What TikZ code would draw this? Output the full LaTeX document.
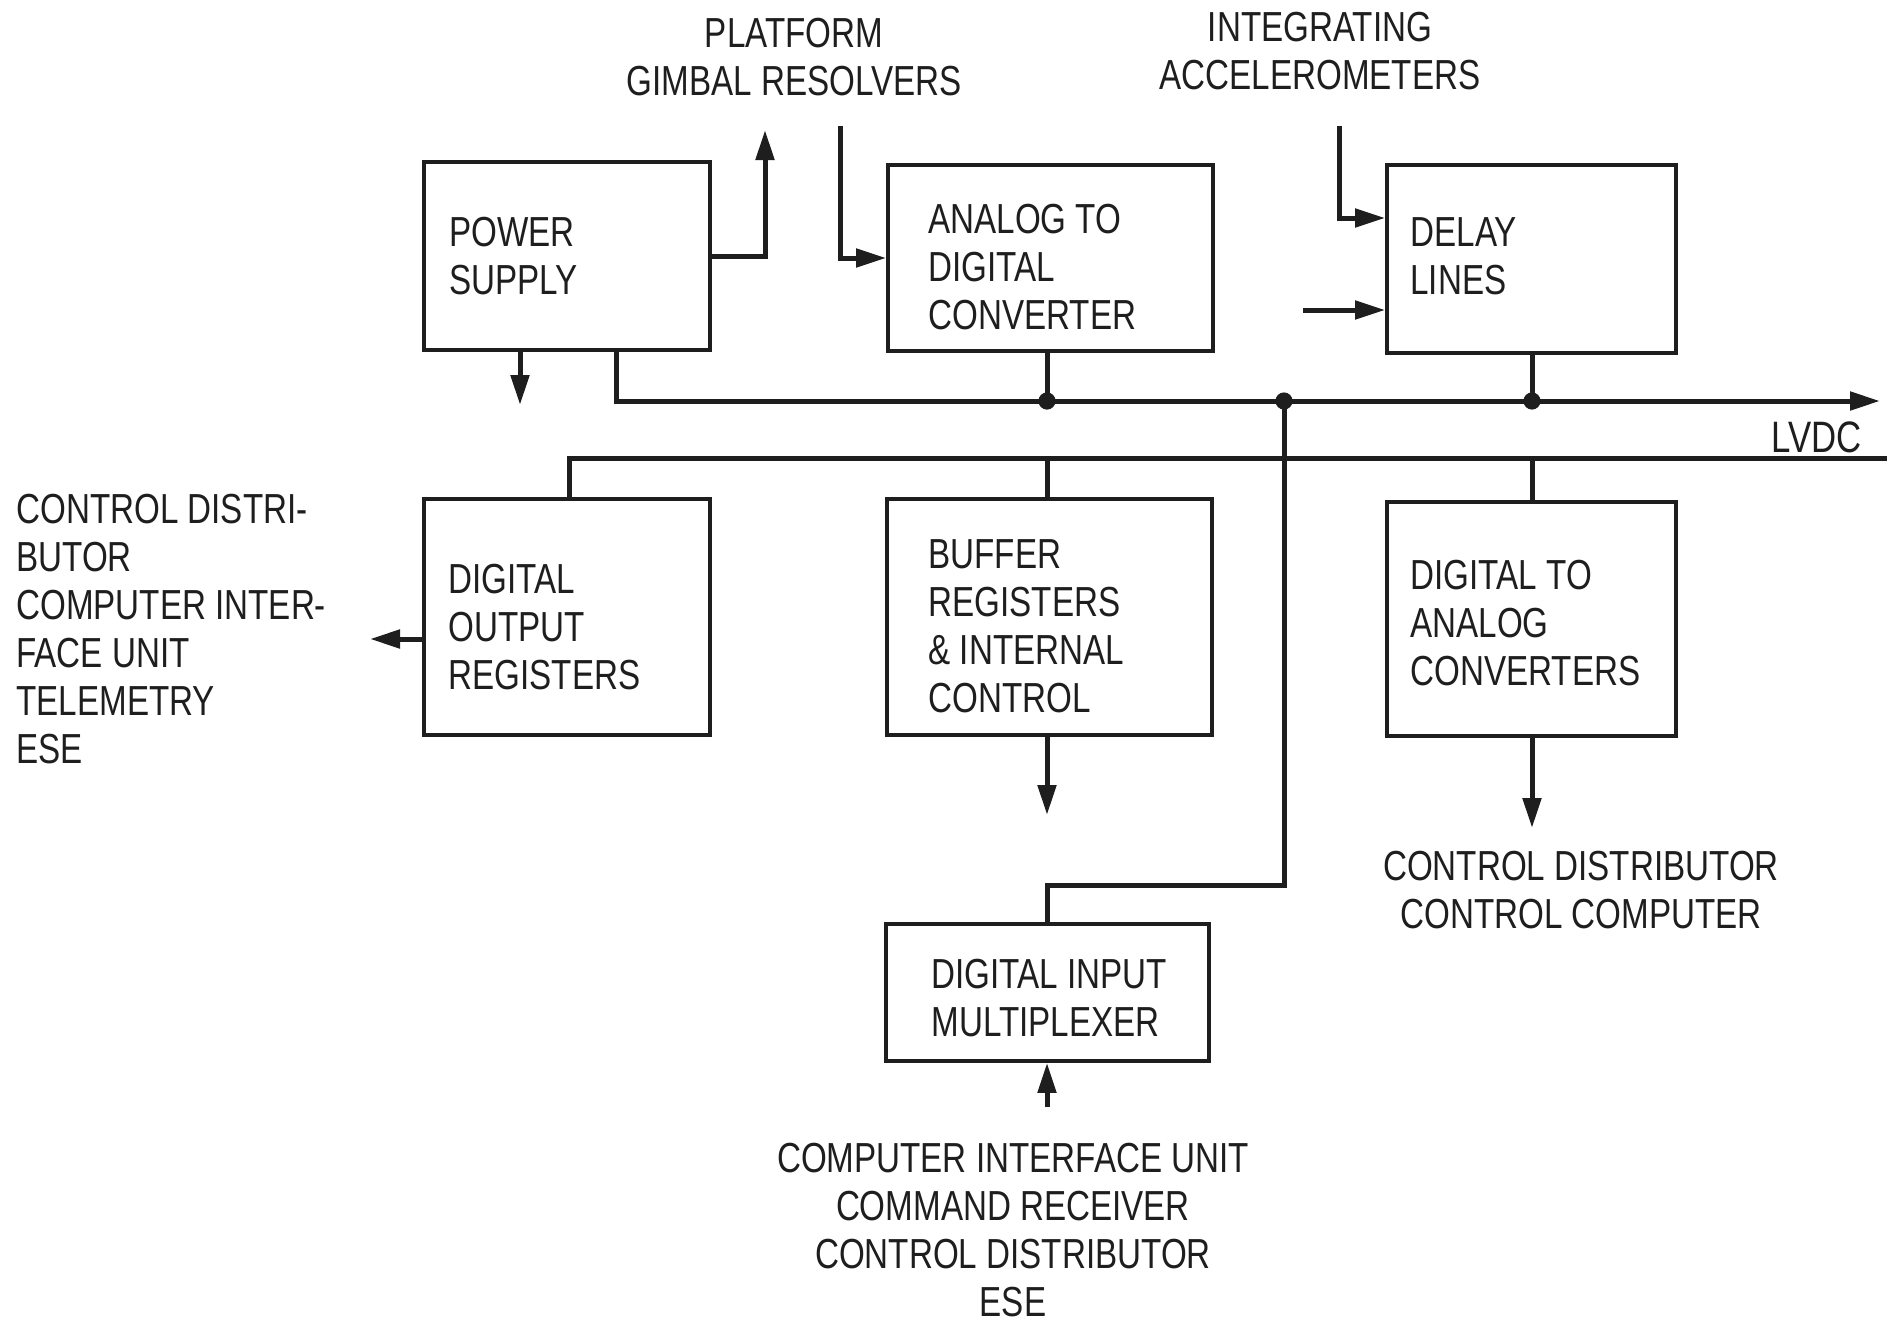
\documentclass[tikz,border=0pt]{standalone}
\usepackage{fontspec}
\setmainfont[FakeStretch=0.79]{Liberation Sans}
\usetikzlibrary{arrows.meta,calc}
\definecolor{ink}{RGB}{30,30,30}
\begin{document}
\begin{tikzpicture}[x=0.5pt,y=-0.5pt,
  blk/.style={draw=ink, line width=1.9pt, inner sep=0pt},
  txt/.style={text=ink, align=left, inner sep=0pt, font=\fontsize{21}{24}\selectfont},
  ctxt/.style={txt, align=center},
  wire/.style={draw=ink, line width=2.5pt},
  arr/.style={wire, -{Triangle[length=15pt,width=9pt]}}]
\fill[white] (0,0) rectangle (1887,1328);
\useasboundingbox (0,0) rectangle (1887,1328);

% boxes
\node[blk, minimum width=143pt, minimum height=94pt] (ps) at (567,256) {};
\node[blk, minimum width=162.5pt, minimum height=93pt] (adc) at (1050.5,258) {};
\node[blk, minimum width=144.5pt, minimum height=94pt] (dly) at (1531.5,259) {};
\node[blk, minimum width=143pt, minimum height=118pt] (dor) at (567,617) {};
\node[blk, minimum width=162.5pt, minimum height=118pt] (buf) at (1049.5,617) {};
\node[blk, minimum width=144.5pt, minimum height=117pt] (dac) at (1531.5,619) {};
\node[blk, minimum width=161.5pt, minimum height=68.5pt] (dim) at (1047.5,992.5) {};

% box texts
\node[txt, anchor=west] (pst) at ($(ps.west)+(27,0)$) {POWER\\SUPPLY};
\node[txt, anchor=west] (adct) at ($(adc.west)+(42,9)$) {ANALOG TO\\DIGITAL\\CONVERTER};
\node[txt, anchor=west] (dlyt) at ($(dly.west)+(25,-3)$) {DELAY\\LINES};
\node[txt, anchor=west] (dort) at ($(dor.west)+(26,10)$) {DIGITAL\\OUTPUT\\REGISTERS};
\node[txt, anchor=west] (buft) at ($(buf.west)+(43,9)$) {BUFFER\\REGISTERS\\\& INTERNAL\\CONTROL};
\node[txt, anchor=west] (dact) at ($(dac.west)+(25,4)$) {DIGITAL TO\\ANALOG\\CONVERTERS};
\node[txt, anchor=west] (dimt) at ($(dim.west)+(47,6)$) {DIGITAL INPUT\\MULTIPLEXER};

% outside labels
\node[ctxt] (pgr) at (794,57) {PLATFORM\\GIMBAL RESOLVERS};
\node[ctxt] (ia) at (1320,51) {INTEGRATING\\ACCELEROMETERS};
\node[txt, anchor=east, font=\fontsize{22}{24}\selectfont] (lvdc) at (1862,437) {LVDC};
\node[txt, anchor=west] (cdl) at (16,629) {CONTROL DISTRI-\\BUTOR\\COMPUTER INTER-\\FACE UNIT\\TELEMETRY\\ESE};
\node[ctxt] (cdc) at (1581,890) {CONTROL DISTRIBUTOR\\CONTROL COMPUTER};
\node[ctxt] (ciu) at (1013,1230) {COMPUTER INTERFACE UNIT\\COMMAND RECEIVER\\CONTROL DISTRIBUTOR\\ESE};

% bus coordinates
\coordinate (b1L) at (616,401);
\coordinate (b1R) at (1880,401);
\coordinate (b2L) at (569,458);
\coordinate (b2R) at (1887,458);
\coordinate (j1) at (1047,401);
\coordinate (j2) at (1284,401);
\coordinate (j3) at (1532,401);
\coordinate (c2) at (1047,458);
\coordinate (c3) at (1532,458);
\coordinate (k) at (1284,885);
\coordinate (k2) at (1047,885);

% buses
\draw[arr] (ps.south -| b1L) -- (b1L) -- (b1R);
\draw[wire] (dor.north -| b2L) -- (b2L) -- (b2R);
\draw[wire] (adc.south -| j1) -- (j1);
\draw[wire] (dly.south -| j3) -- (j3);
\draw[wire] (buf.north -| c2) -- (c2);
\draw[wire] (dac.north -| c3) -- (c3);
\draw[wire] (j2) -- (k) -- (k2) -- (dim.north -| k2);
\foreach \j in {j1,j2,j3} \fill[ink] (\j) circle[radius=4.3pt];

% free-end coordinates
\coordinate (pgo) at (765,130);
\coordinate (pgi) at (840,126);
\coordinate (ai) at (1339,126);
\coordinate (di) at (1303,310);
\coordinate (dout) at (370,639);
\coordinate (psd) at (520,405);
\coordinate (bo) at (1047,815);
\coordinate (dco) at (1532,828);
\coordinate (dmi) at (1047,1107);

% arrows
\draw[arr] (ps.east) -| (pgo);
\draw[arr] (pgi) |- (adc.west);
\draw[arr] (ai) |- ($(dly.west)+(0,-41)$);
\draw[arr] (di) -- (di -| dly.west);
\draw[arr] (dout -| dor.west) -- (dout);
\draw[arr] (ps.south -| psd) -- (psd);
\draw[arr] (buf.south -| bo) -- (bo);
\draw[arr] (dac.south -| dco) -- (dco);
\draw[arr] (dmi) -- (dim.south -| dmi);
\end{tikzpicture}
\end{document}
